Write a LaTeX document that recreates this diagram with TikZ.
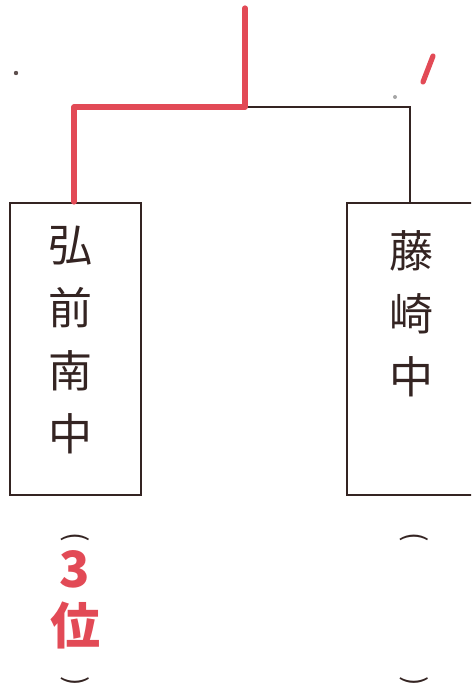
\documentclass[tikz,border=0pt]{standalone}
\usepackage{fontspec}
\newfontfamily\jpfont{Noto Sans CJK JP}
\definecolor{ink}{RGB}{52,36,34}
\definecolor{redpen}{RGB}{226,74,86}
\tikzset{
	school/.style={draw=ink, line width=1pt, minimum width=65.5pt, minimum height=146pt},
	schoolname/.style={anchor=north, align=center, text=ink, inner sep=0pt, font=\jpfont\fontsize{22}{31.5}\selectfont},
	bracket/.style={draw=ink, line width=1pt},
	win/.style={draw=redpen, line width=2.6pt, line cap=round, line join=round},
	paren/.style={text=ink, inner sep=0pt, rotate=-90, font=\jpfont\fontsize{14}{14}\selectfont},
	rank/.style={text=redpen, align=center, inner sep=0pt, font=\jpfont\bfseries\fontsize{25}{28.5}\selectfont}
}
\begin{document}
\begin{tikzpicture}[x=0.5pt, y=-0.5pt]
	\useasboundingbox (0,0) rectangle (471,690);
	\clip (0,0) rectangle (471,690);

	\node [school] (hirosaki) at (75.5,349) {};
	\node [school] (fujisaki) at (412.5,349) {};
	\node [schoolname] (hirosakiname) at (70,226) {弘\\前\\南\\中};
	\node [schoolname] (fujisakiname) at (411,230) {藤\\崎\\中};

	\coordinate (final) at (245,8);
	\coordinate (joint) at (245,107);
	\coordinate (leftturn) at (74,107);
	\coordinate (rightturn) at (410,107);

	\draw [bracket] (joint) -- (rightturn) -- (rightturn |- fujisaki.north);
	\draw [win] (leftturn |- hirosaki.north) -- (leftturn) -- (joint) -- (final);
	\draw [win] (433,56) -- (423,82);

	\node [paren] (hirosakiopen) at (75,537) {(};
	\node [rank] (hirosakirank) at (75,600) {3\\位};
	\node [paren] (hirosakiclose) at (75,681) {)};
	\node [paren] (fujisakiopen) at (414,537) {(};
	\node [paren] (fujisakiclose) at (414,681) {)};

	\fill [ink!80] (16,73) circle (2.2);
	\fill [gray!70] (395,97) circle (2);
\end{tikzpicture}
\end{document}
